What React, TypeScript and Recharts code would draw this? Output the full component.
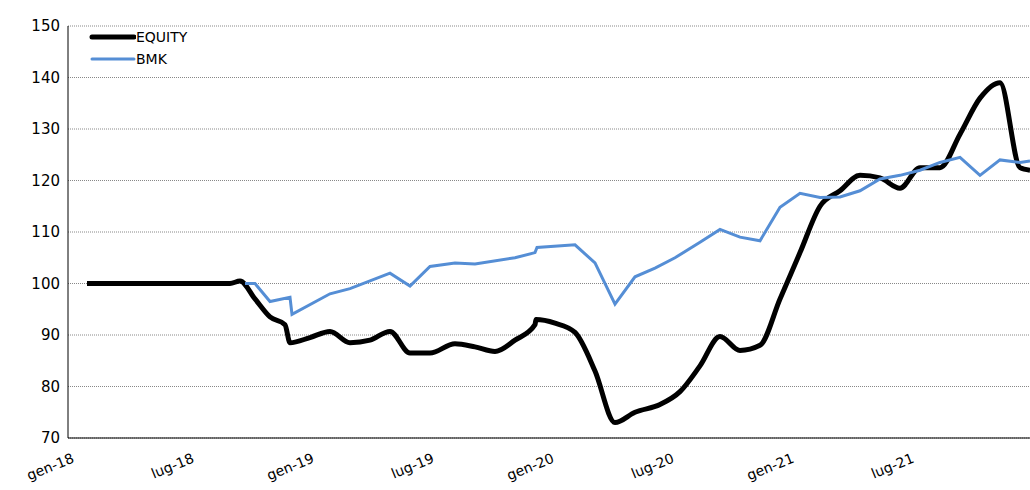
import { CartesianGrid, Line, LineChart, XAxis, YAxis } from "recharts"

// months since Jan 2018
const equityMonths = [0.6, 7.75, 8.25, 9, 9.75, 10.5, 10.75, 11.75, 12.75, 13.75, 14.75, 15.75, 16.75, 17.75, 19, 20, 21, 22, 23, 23.05, 24, 25, 26, 27, 28, 29.25, 30.25, 31.25, 32.25, 33.25, 34.25, 35.25, 36.25, 37.25, 38.25, 39.25, 40.25, 41.25, 42.25, 43.25, 44.25, 45.25, 46.25, 47.25, 47.75]
const equityValues = [100, 100, 100.5, 97, 93.5, 92, 88.5, 89.5, 90.7, 88.5, 89, 90.7, 86.5, 86.5, 88.3, 87.7, 86.8, 89, 92, 93, 92.3, 90.5, 83, 73, 75, 76.5, 79, 84, 89.7, 87, 88, 97, 106, 115, 118, 121, 120.5, 118.5, 122.5, 122.5, 129, 136, 139, 122.5, 122]

const bmkMonths = [8.5, 9, 9.75, 10.75, 10.85, 12.75, 13.75, 15.75, 16.75, 17.75, 19, 20, 22, 23, 23.1, 25, 26, 27, 28, 29, 30, 31.25, 32.25, 33.25, 34.25, 35.25, 36.25, 37.25, 38.25, 39.25, 40.25, 41.25, 42.25, 43.25, 44.25, 45.25, 46.25, 47.25, 47.75]
const bmkValues = [100, 100, 96.5, 97.3, 94, 98, 99, 102, 99.5, 103.3, 104, 103.8, 105, 106, 107, 107.5, 104, 96, 101.3, 103, 105, 108, 110.5, 109, 108.3, 114.8, 117.5, 116.7, 116.8, 118, 120.3, 121, 122, 123.5, 124.5, 121, 124, 123.5, 123.8]

const tickMonths = [0, 6, 12, 18, 24, 30, 36, 42]
const tickLabels = ["gen-18", "lug-18", "gen-19", "lug-19", "gen-20", "lug-20", "gen-21", "lug-21"]
const yTicks = [70, 80, 90, 100, 110, 120, 130, 140, 150]

const equityData = equityMonths.map((m, i) => ({ m, v: equityValues[i] }))
const bmkData = bmkMonths.map((m, i) => ({ m, v: bmkValues[i] }))

const font = "DejaVu Sans, Verdana, sans-serif"

function XTick({ x, y, payload }: any) {
  const label = tickLabels[tickMonths.indexOf(payload.value)]
  return (
    <text x={x} y={y + 16} textAnchor="end" fontSize={14} fill="#000" transform={`rotate(-22 ${x} ${y + 16})`}>
      {label}
    </text>
  )
}

function LegendBox() {
  const items = [
    { name: "EQUITY", color: "#000", w: 5 },
    { name: "BMK", color: "#558ed5", w: 3 },
  ]
  return (
    <div style={{ position: "absolute", left: 88, top: 26, fontFamily: font, fontSize: 14 }}>
      {items.map((it) => (
        <div key={it.name} style={{ display: "flex", alignItems: "center", height: 22 }}>
          <svg width={48} height={10}>
            <line x1={4} y1={5} x2={46} y2={5} stroke={it.color} strokeWidth={it.w} strokeLinecap="round" />
          </svg>
          <span>{it.name}</span>
        </div>
      ))}
    </div>
  )
}

export default function App() {
  return (
    <div style={{ position: "absolute", left: 0, top: 0, background: "#fff", fontFamily: font }}>
      <LineChart width={1030} height={490} margin={{ top: 26, right: 0, left: 8, bottom: 0 }}>
        <CartesianGrid horizontal vertical={false} stroke="#888" strokeDasharray="1 1" />
        <XAxis
          dataKey="m"
          type="number"
          domain={[-0.35, 47.75]}
          ticks={tickMonths}
          tick={<XTick />}
          tickLine={false}
          axisLine={{ stroke: "#000" }}
          height={52}
          allowDuplicatedCategory={false}
        />
        <YAxis
          domain={[70, 150]}
          ticks={yTicks}
          width={60}
          tick={{ fontSize: 15, fill: "#000" }}
          tickLine={false}
          axisLine={{ stroke: "#000" }}
        />
        <Line data={equityData} dataKey="v" type="monotone" stroke="#000" strokeWidth={5} dot={false} isAnimationActive={false} />
        <Line data={bmkData} dataKey="v" type="linear" stroke="#558ed5" strokeWidth={3} dot={false} isAnimationActive={false} />
      </LineChart>
      <LegendBox />
    </div>
  )
}
